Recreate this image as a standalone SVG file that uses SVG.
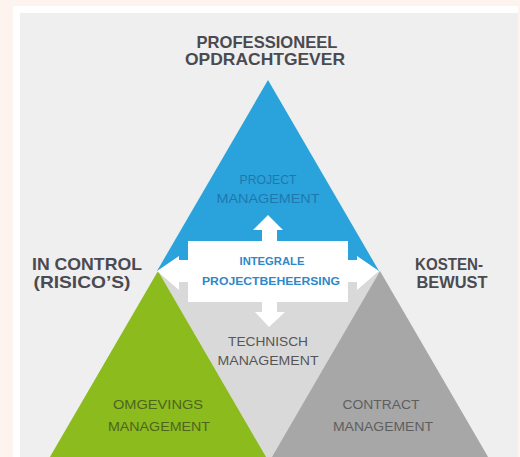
<svg xmlns="http://www.w3.org/2000/svg" width="520" height="457" viewBox="0 0 520 457">
<style>
.title{font-family:"Liberation Sans",Arial,sans-serif;font-weight:bold;fill:#4a4a50;text-anchor:middle}
.lbl{font-family:"Liberation Sans",Arial,sans-serif;font-size:12.5px;text-anchor:middle}
.ipb{font-family:"Liberation Sans",Arial,sans-serif;font-weight:bold;font-size:11px;fill:#2f88c8;text-anchor:middle}
</style>
<rect x="0" y="0" width="520" height="457" fill="#fdf4ef"/>
<rect x="13" y="6" width="505" height="451" fill="#ffffff"/>
<rect x="20" y="13" width="498" height="444" fill="#efefef"/>
<g id="middle-triangle"><polygon points="158,271 380,271 269,462" fill="#d9d9d9"/></g>
<g id="project-management">
<polygon points="268,80 157,271 379,271" fill="#2aa3dc"/>
<text class="lbl" x="268" y="184" fill="#1e78ae" textLength="57" lengthAdjust="spacingAndGlyphs">PROJECT</text>
<text class="lbl" x="268" y="203" fill="#1e78ae" textLength="103" lengthAdjust="spacingAndGlyphs">MANAGEMENT</text>
</g>
<g id="omgevings-management">
<polygon points="158,271 47,462 269,462" fill="#8bbb1d"/>
<text class="lbl" x="158" y="409" fill="#4e6420" textLength="90" lengthAdjust="spacingAndGlyphs">OMGEVINGS</text>
<text class="lbl" x="159" y="431" fill="#4e6420" textLength="102" lengthAdjust="spacingAndGlyphs">MANAGEMENT</text>
</g>
<g id="contract-management">
<polygon points="380,271 269,462 491,462" fill="#a7a7a7"/>
<text class="lbl" x="381" y="409" fill="#5e5e5e" textLength="77" lengthAdjust="spacingAndGlyphs">CONTRACT</text>
<text class="lbl" x="383" y="431" fill="#5e5e5e" textLength="100" lengthAdjust="spacingAndGlyphs">MANAGEMENT</text>
</g>
<g id="technisch-management">
<text class="lbl" x="268" y="346" fill="#555555" textLength="80" lengthAdjust="spacingAndGlyphs">TECHNISCH</text>
<text class="lbl" x="268" y="365" fill="#555555" textLength="101" lengthAdjust="spacingAndGlyphs">MANAGEMENT</text>
</g>
<g id="connectors" fill="#ffffff">
<polygon points="157,271 179,256 179,260 190,260 190,282 179,282 179,290"/>
<polygon points="379,271 357,256 357,260 346,260 346,282 357,282 357,290"/>
<polygon points="268,215 283,230 277,230 277,244 262,244 262,230 253,230"/>
<polygon points="269,327 285,312 277,312 277,300 262,300 262,312 255,312"/>
</g>
<g id="integrale-projectbeheersing">
<rect x="188" y="241" width="160" height="61" fill="#ffffff"/>
<text class="ipb" x="272" y="265" textLength="65" lengthAdjust="spacingAndGlyphs">INTEGRALE</text>
<text class="ipb" x="271" y="285" textLength="138" lengthAdjust="spacingAndGlyphs">PROJECTBEHEERSING</text>
</g>
<g id="professioneel-opdrachtgever">
<text class="title" x="267" y="48" font-size="16.5" textLength="141" lengthAdjust="spacingAndGlyphs">PROFESSIONEEL</text>
<text class="title" x="265" y="65" font-size="16.5" textLength="160" lengthAdjust="spacingAndGlyphs">OPDRACHTGEVER</text>
</g>
<g id="in-control">
<text class="title" x="87" y="270" font-size="17" textLength="110" lengthAdjust="spacingAndGlyphs">IN CONTROL</text>
<text class="title" x="82" y="288" font-size="17" textLength="97" lengthAdjust="spacingAndGlyphs">(RISICO’S)</text>
</g>
<g id="kostenbewust">
<text class="title" x="449" y="270" font-size="17" textLength="68" lengthAdjust="spacingAndGlyphs">KOSTEN-</text>
<text class="title" x="452" y="288" font-size="17" textLength="71" lengthAdjust="spacingAndGlyphs">BEWUST</text>
</g>
</svg>
